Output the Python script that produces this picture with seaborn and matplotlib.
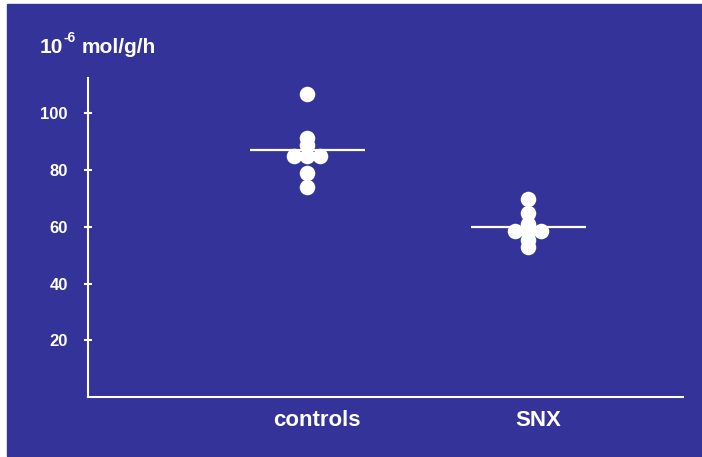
import numpy as np
import pandas as pd
import seaborn as sns
import matplotlib.pyplot as plt
from matplotlib.patches import Rectangle
from matplotlib.transforms import ScaledTranslation

# Data
groups = ["controls", "SNX"]
controls = [107, 91.5, 89, 85, 85, 85, 79, 74]
snx = [70, 65, 61, 58.5, 58.5, 58.5, 55.5, 53]
y_ticks = [20, 40, 60, 80, 100]

bg = "#333399"
sns.set_theme(style="white")
plt.rcParams['font.family'] = ['Liberation Sans', 'DejaVu Sans']

# Long-form table; tied values are spread sideways like in the figure
rows = []
for i, (g, vals) in enumerate(zip(groups, [controls, snx])):
    s = pd.Series(vals)
    rank = s.groupby(s).cumcount()
    n = s.groupby(s).transform("size")
    off = (rank - (n - 1) / 2) * 0.058
    for v, o in zip(s, off):
        rows.append({"group": g, "value": v, "xpos": i + o})
df = pd.DataFrame(rows)

fig = plt.figure(figsize=(7.02, 4.57), dpi=100, facecolor="white")
fig.add_artist(Rectangle((7 / 702, 1 / 457), 1, 452 / 457,
                         transform=fig.transFigure, color=bg, zorder=0))

ax = fig.add_axes([88 / 702, 60 / 457, 595 / 702, 319 / 457])
ax.set_facecolor("none")

sns.scatterplot(data=df, x="xpos", y="value", color="white", s=125,
                linewidth=0, legend=False, ax=ax, zorder=3)

# Mean bars
for i, vals in enumerate([controls, snx]):
    ax.hlines(np.mean(vals), i - 0.26, i + 0.26, color="white", lw=1.6, zorder=2)

ax.set_xlim(-0.991, 1.701)
ax.set_ylim(0, 112.5)
ax.set_xticks([0, 1])
ax.set_xticklabels(groups)
ax.set_yticks(y_ticks)
ax.set_xlabel("")
ax.set_ylabel("")

for side in ["top", "right"]:
    ax.spines[side].set_visible(False)
for side in ["left", "bottom"]:
    ax.spines[side].set_color("white")
    ax.spines[side].set_linewidth(1.5)

ax.tick_params(axis="y", direction="inout", length=6, width=1.5, color="white",
               labelcolor="white", labelsize=12, pad=11.5, left=True)
ax.tick_params(axis="x", length=0, labelcolor="white", labelsize=16, pad=9)
shift = ScaledTranslation(0.1, 0, fig.dpi_scale_trans)
for lbl in ax.get_xticklabels():
    lbl.set_transform(lbl.get_transform() + shift)
for lbl in ax.get_yticklabels() + ax.get_xticklabels():
    lbl.set_fontweight("bold")

# Unit label
fig.text(40 / 702, 1 - 53 / 457, "10", fontsize=15, fontweight="bold", color="white")
fig.text(63 / 702, 1 - 42 / 457, "-6", fontsize=10, fontweight="bold", color="white")
fig.text(82 / 702, 1 - 53 / 457, "mol/g/h", fontsize=15, fontweight="bold", color="white")

fig.savefig("out.png", dpi=100, facecolor=fig.get_facecolor())
